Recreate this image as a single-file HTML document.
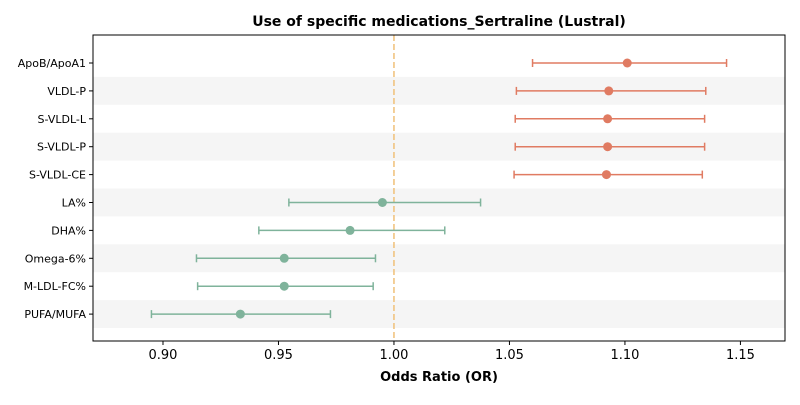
<!DOCTYPE html>
<html><head><meta charset="utf-8"><style>
body{margin:0;background:#fff;font-family:"Liberation Sans","DejaVu Sans",sans-serif;}
svg text{font-family:"DejaVu Sans","Liberation Sans",sans-serif;}
</style></head><body>
<svg id="chart" width="800" height="400" xmlns="http://www.w3.org/2000/svg"></svg>
<script>
const labels=["ApoB/ApoA1","VLDL-P","S-VLDL-L","S-VLDL-P","S-VLDL-CE","LA%","DHA%","Omega-6%","M-LDL-FC%","PUFA/MUFA"];
const ors=[1.101,1.093,1.0925,1.0925,1.092,0.995,0.981,0.9525,0.9525,0.9335];
const lows=[1.060,1.053,1.0525,1.0525,1.052,0.9545,0.9415,0.9145,0.915,0.895];
const highs=[1.144,1.135,1.1345,1.1345,1.1335,1.0375,1.022,0.992,0.991,0.9725];
const xticks=[0.90,0.95,1.00,1.05,1.10,1.15];
const NS="http://www.w3.org/2000/svg";
const svg=document.getElementById('chart');
const L=93,R=785,T=35,B=341,x0=0.8697,x1=1.1693;
const X=v=>L+(v-x0)/(x1-x0)*(R-L);
const Y=i=>63+i*27.9;
function mk(t,a,p){const e=document.createElementNS(NS,t);for(const k in a)e.setAttribute(k,a[k]);(p||svg).appendChild(e);return e;}
labels.forEach((l,i)=>{if(i%2==1){const r=mk('rect',{x:L,y:Y(i)-14,width:R-L,height:27.9,fill:'#f5f5f5'});

}});
const ref=mk('line',{x1:X(1),x2:X(1),y1:T,y2:B,stroke:'#f0c078','stroke-width':1.5,'stroke-dasharray':'6,3'});


labels.forEach((l,i)=>{
const c=ors[i]>1?'#e07b62':'#7fb39b';const y=Y(i);
const g=mk('g',{});


mk('line',{x1:X(lows[i]),x2:X(highs[i]),y1:y,y2:y,stroke:c,'stroke-width':1.5},g);
mk('line',{x1:X(lows[i]),x2:X(lows[i]),y1:y-4,y2:y+4,stroke:c,'stroke-width':1.5},g);
mk('line',{x1:X(highs[i]),x2:X(highs[i]),y1:y-4,y2:y+4,stroke:c,'stroke-width':1.5},g);
mk('circle',{cx:X(ors[i]),cy:y,r:4.5,fill:c},g);
const t=mk('text',{x:L-7,y:y+4,'text-anchor':'end','font-size':11,fill:'#000'});t.textContent=l;


mk('line',{x1:L-4,x2:L,y1:y,y2:y,stroke:'#000'});
});
xticks.forEach(v=>{mk('line',{x1:X(v),x2:X(v),y1:B,y2:B+4,stroke:'#000'});
const t=mk('text',{x:X(v),y:B+18,'text-anchor':'middle','font-size':13,fill:'#000'});t.textContent=v.toFixed(2);

});
mk('rect',{x:L,y:T,width:R-L,height:B-T,fill:'none',stroke:'#000','stroke-width':1});
const xt=mk('text',{x:(L+R)/2,y:381,'text-anchor':'middle','font-size':13,'font-weight':'bold'});xt.textContent='Odds Ratio (OR)';


const tt=mk('text',{x:(L+R)/2,y:26,'text-anchor':'middle','font-size':14,'font-weight':'bold'});tt.textContent='Use of specific medications_Sertraline (Lustral)';


</script>
</body></html>
